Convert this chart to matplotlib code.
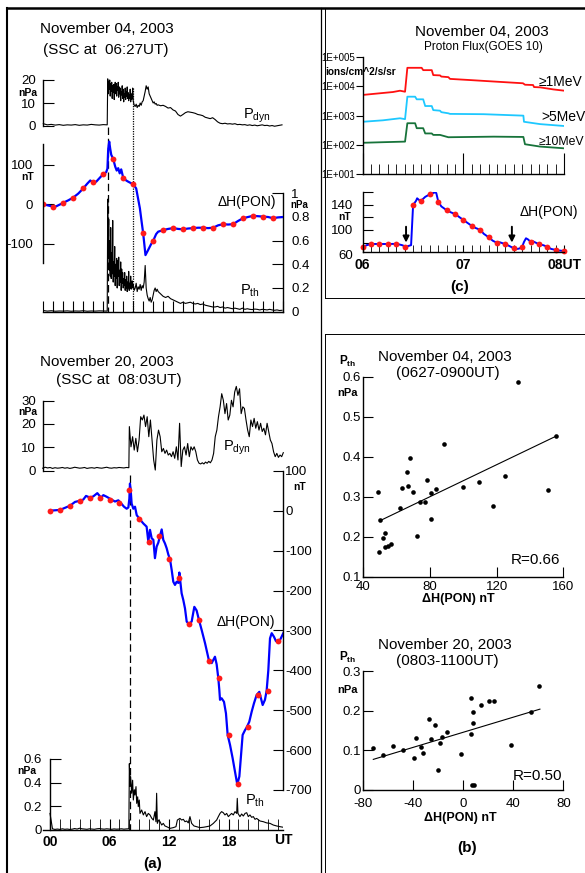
import numpy as np
import matplotlib
matplotlib.use("Agg")
import matplotlib.pyplot as plt
import matplotlib.transforms as mtransforms

plt.rcParams['font.family'] = ['Liberation Sans', 'DejaVu Sans']
plt.rcParams['mathtext.fontset'] = 'custom'
plt.rcParams['mathtext.rm'] = 'Liberation Sans'
plt.rcParams['mathtext.bf'] = 'Liberation Sans:bold'
plt.rcParams['mathtext.it'] = 'Liberation Sans:italic'
plt.rcParams['axes.unicode_minus'] = False
plt.rcParams['axes.linewidth'] = 1.0

# ---------------- data: November 04, 2003 (panel a, top) ----------------
ssc04 = 6.45
end04 = 9.0
pdyn04_pre = [1.0, 0.5, 0.7, 0.4, 0.6, 0.3, 0.5, 0.4, 0.6, 0.3, 0.5, 0.4, 0.7, 0.5, 0.4, 0.6, 0.5]
pdyn04_ssc = [20.5, 14.0, 19.5, 16.0, 20.0, 13.0, 18.5, 15.0, 19.0, 12.0,
              17.5, 14.5, 18.0, 11.5, 16.0, 19.0, 14.0, 18.5, 13.0, 17.0,
              15.5, 19.0, 12.5, 17.0, 14.0, 16.5, 11.0, 15.0, 13.5, 17.5,
              12.0, 16.0, 10.5, 14.0, 12.5, 16.5, 11.5, 15.0, 13.0, 17.0,
              12.0, 14.5, 11.0, 13.5, 12.0, 16.0, 10.5, 14.0, 11.5, 13.0,
              16.5, 11.0]
pdyn04_mid = [9.0, 8.5, 9.5, 8.0, 9.0, 8.5, 10.0, 9.0, 10.5, 11.0, 13.0, 15.0,
              17.5, 16.0, 17.0, 14.0, 13.0, 12.0, 11.0, 10.0, 10.5, 9.5, 9.8, 9.0]
pdyn04_late = [9.2, 8.8, 9.0, 8.5, 7.8, 8.0, 7.0, 6.5, 5.0, 4.3, 5.0, 5.8, 6.2, 6.0,
               5.8, 5.5, 5.0, 4.8, 4.5, 3.8, 3.5, 3.2, 3.6, 2.8, 1.8, 1.2, 1.0, 1.2,
               0.9, 1.0, 0.8, 1.0, 0.6, 0.7, 0.5, 0.6, 0.3, 0.5, 0.2, 0.4, 0.1, 0.3,
               0.5, 0.2, 0.3, 0.0, 0.2, -0.1, 0.1, 0.3, 0.5]

pth04_pre = [0.01, 0.005, 0.008, 0.004, 0.006, 0.005, 0.007, 0.004, 0.006, 0.005,
             0.008, 0.004, 0.006, 0.005, 0.007, 0.006, 0.005]
pth04_ssc = [0.95, 0.45, 0.78, 0.35, 0.6, 0.3, 0.71, 0.28, 0.5, 0.32, 0.77, 0.25,
             0.42, 0.3, 0.55, 0.22, 0.4, 0.28, 0.45, 0.2, 0.43, 0.3, 0.46, 0.22,
             0.35, 0.25, 0.42, 0.18, 0.36, 0.24, 0.33, 0.2, 0.28, 0.22, 0.33, 0.18,
             0.27, 0.2, 0.3, 0.17, 0.25, 0.2, 0.34, 0.18, 0.24, 0.2, 0.3, 0.19,
             0.22, 0.26, 0.2, 0.23]
pth04_mid = [0.18, 0.2, 0.24, 0.17, 0.21, 0.19, 0.23, 0.18, 0.22, 0.2, 0.25, 0.39,
             0.2, 0.14, 0.11, 0.09, 0.12, 0.08, 0.1, 0.14, 0.18, 0.2, 0.17, 0.19]
pth04_late = [0.17, 0.15, 0.13, 0.12, 0.13, 0.11, 0.1, 0.09, 0.08, 0.07, 0.08, 0.07,
              0.075, 0.08, 0.07, 0.065, 0.07, 0.06, 0.065, 0.055, 0.05, 0.045, 0.04,
              0.04, 0.045, 0.035, 0.04, 0.03, 0.035, 0.03, 0.025, 0.03, 0.025, 0.02,
              0.03, 0.02, 0.025, 0.02, 0.018, 0.022, 0.02, 0.015, 0.02, 0.018, 0.015,
              0.02, 0.015, 0.012, 0.015, 0.01, 0.012]

dh04_t = [0, 0.5, 1.0, 1.3, 1.7, 2.0, 2.5, 3.0, 3.5, 4.0, 4.4, 4.7, 5.0, 5.3, 5.7,
          6.0, 6.3, 6.42, 6.5, 6.6, 6.7, 6.8, 7.0, 7.2, 7.35, 7.5, 7.65, 7.8, 8.0,
          8.3, 8.5, 8.8, 9.0, 9.3, 9.67, 9.85, 10.0, 10.23, 10.5, 10.8, 11.0, 11.3,
          11.5, 12.0, 12.5, 13.0, 13.5, 14.0, 14.5, 15.0, 15.5, 16.0, 16.5, 17.0,
          17.5, 18.0, 18.5, 19.0, 19.5, 20.0, 20.5, 21.0, 21.5, 22.0, 22.5, 23.0,
          23.5, 24.0]
dh04_v = [0, -3, -6, -5, 0, 4, 10, 17, 27, 40, 52, 60, 55, 57, 68, 76, 81, 90, 140,
          158, 140, 125, 114, 95, 85, 91, 78, 88, 67, 60, 57, 53, 51, 40, -10, -45,
          -73, -128, -115, -100, -92, -75, -69, -65, -62, -60, -62, -63, -61, -60,
          -59, -59, -60, -59, -53, -50, -51, -50, -42, -35, -32, -29, -30, -31, -32,
          -35, -33, -32]
dots04 = [0, -6, 4, 17, 40, 55, 76, 114, 67, 51, -73, -92, -65, -60, -63, -60, -59,
          -59, -50, -50, -35, -29, -31, -35]

# ---------------- data: November 20, 2003 (panel a, bottom) ----------------
ssc20 = 8.05
pdyn20_pre = [1.2, 1.6, 1.3, 1.5, 1.1, 1.4, 1.2, 1.3, 1.5, 1.2, 1.4, 1.1, 1.3, 1.6,
              1.4, 1.2, 1.3, 1.5, 1.1, 1.3, 1.4, 1.2, 1.5, 1.3, 1.2, 1.4, 1.6, 1.3,
              1.2, 1.4, 1.3, 1.5, 1.4, 1.3, 1.5, 1.4]
pdyn20_post = [18.9, 10.3, 14.6, 8.9, 13.9, 8.2, 13.2, 23.1, 21.7, 23.8, 18.9, 23.1,
               14.6, 21.7, 13.2, 4.7, 0.4, 13.2, 17.4, 14.6, 8.2, 9.6, 7.5, 8.9, 6.8,
               7.5, 6.1, 8.2, 5.4, 10.3, 4.7, 20.3, 1.9, 8.9, 10.3, 6.8, 11.7, 6.1,
               10.3, 8.9, 10.3, 8.2, 4.7, 3.3, 3.0, 3.5, 3.0, 3.8, 3.3, 4.1, 3.5, 4.7,
               7.5, 14.6, 17.4, 23.1, 27.3, 32.9, 30.1, 24.4, 28.7, 21.7, 23.8, 30.1,
               27.3, 33.6, 36.0, 32.2, 35.0, 24.4, 27.3, 26.6, 21.7, 17.4, 14.6, 21.7,
               18.9, 22.4, 18.2, 21.0, 17.4, 20.3, 16.8, 18.2, 15.4, 20.3, 16.8, 13.2,
               11.7, 8.2, 6.1, 7.5, 5.8, 6.8, 6.1, 7.8]

dh20_t = [0, 1.01, 1.68, 2.02, 2.52, 3.02, 3.36, 3.63, 4.03, 4.37, 4.77, 5.14, 5.38,
          5.71, 6.15, 6.55, 6.89, 7.12, 7.46, 7.73, 7.9, 8.0, 8.06, 8.13, 8.23, 8.4,
          8.57, 8.74, 9.07, 9.41, 9.74, 9.91, 10.08, 10.25, 10.42, 10.58, 10.75,
          10.92, 11.09, 11.26, 11.42, 11.59, 11.76, 11.93, 12.1, 12.27, 12.43, 12.6,
          12.77, 12.94, 13.04, 13.1, 13.27, 13.44, 13.61, 13.78, 14.01, 14.28, 14.55,
          14.78, 15.02, 15.29, 15.63, 16.03, 16.3, 16.63, 16.8, 16.97, 17.07, 17.14,
          17.3, 17.54, 17.74, 17.91, 18.15, 18.41, 18.65, 18.88, 19.09, 19.22, 19.42,
          19.66, 19.83, 20.09, 20.33, 20.56, 20.83, 21.1, 21.44, 21.67, 21.84, 22.01,
          22.18, 22.35, 22.58, 22.78, 23.19, 23.52]
dh20_v = [0, 2, 9, 12.5, 22, 25, 28, 37, 33, 36, 44, 33, 39, 35, 28.5, 23, 26, 20, 10,
          5, 8, 30, 68, 53, 18, 5, 10, -11, -22, -32, -40, -77, -48, -69, -73, -119,
          -90, -80, -63, -47, -73, -82, -94, -110, -122, -149, -178, -186, -178, -181,
          -155, -169, -207, -224, -245, -278, -284, -278, -241, -250, -274, -299, -332,
          -376, -382, -366, -385, -420, -449, -474, -470, -479, -508, -562, -587, -620,
          -654, -686, -666, -625, -562, -550, -543, -529, -504, -483, -462, -454, -487,
          -474, -451, -400, -320, -307, -316, -327, -324, -307]
dots20 = [0, 2, 12, 25, 33, 33, 28, 20, 53, -22, -78, -63, -122, -169, -284, -274,
          -376, -420, -562, -686, -543, -462, -451, -327]

pth20_pre = [0.14, 0.01, 0.005, 0.008, 0.005, 0.01, 0.006, 0.008, 0.005, 0.007, 0.012,
             0.008, 0.015, 0.01, 0.008, 0.006, 0.01, 0.008, 0.006, 0.01, 0.012, 0.009,
             0.007, 0.01, 0.008, 0.006, 0.009, 0.007, 0.008, 0.01, 0.007, 0.009, 0.01]
pth20_t = [8.0, 8.06, 8.13, 8.23, 8.33, 8.4, 8.5, 8.57, 8.67, 8.74, 8.84, 8.9, 9.0,
           9.07, 9.24, 9.41, 9.58, 9.74, 9.91, 10.08, 10.25, 10.42, 10.58, 10.68,
           10.75, 10.82, 10.95, 11.09, 11.26, 11.42, 11.59, 11.76, 12.1, 12.43, 12.7,
           12.84, 13.1, 13.27, 13.44, 13.61, 13.78, 13.94, 14.11, 14.28, 14.52, 14.78,
           15.12, 15.46, 15.79, 16.13, 16.47, 16.63, 16.8, 16.97, 17.14, 17.3, 17.47,
           17.64, 17.81, 17.98, 18.15, 18.31, 18.48, 18.65, 18.82, 18.88, 18.95, 19.15,
           19.32, 19.49, 19.66, 19.83, 19.99, 20.16, 20.33, 20.5, 20.67, 20.83, 21.17,
           21.51, 21.84, 22.18, 22.51, 22.85, 23.19, 23.52]
pth20_v = [0.56, 0.37, 0.45, 0.31, 0.42, 0.253, 0.34, 0.295, 0.366, 0.225, 0.28, 0.197,
           0.253, 0.14, 0.169, 0.127, 0.155, 0.113, 0.14, 0.127, 0.1, 0.084, 0.155,
           0.07, 0.31, 0.056, 0.084, 0.07, 0.042, 0.056, 0.034, 0.028, 0.014, 0.02,
           0.028, 0.084, 0.098, 0.084, 0.09, 0.07, 0.076, 0.06, 0.113, 0.056, 0.034,
           0.028, 0.02, 0.023, 0.028, 0.034, 0.056, 0.07, 0.084, 0.113, 0.14, 0.155,
           0.146, 0.127, 0.14, 0.113, 0.127, 0.14, 0.127, 0.155, 0.14, 0.267, 0.14,
           0.113, 0.135, 0.118, 0.14, 0.146, 0.113, 0.127, 0.107, 0.113, 0.09, 0.098,
           0.076, 0.07, 0.06, 0.056, 0.042, 0.034, 0.028, 0.023]

# ---------------- data: panel c (GOES 10 proton flux, 06-08 UT) ----------------
red_t = [6.0, 6.15, 6.3, 6.37, 6.42, 6.443, 6.585, 6.6, 6.685, 6.7, 6.767, 6.78,
         6.85, 6.866, 7.065, 7.3, 7.59, 7.61, 7.69, 7.70, 7.76, 7.89, 8.0]
red_log = [3.71, 3.76, 3.81, 3.855, 3.82, 4.64, 4.64, 4.56, 4.56, 4.39, 4.38, 4.34,
           4.32, 4.26, 4.22, 4.17, 4.11, 4.06, 4.05, 3.98, 3.97, 3.90, 3.855]
cyan_t = [6.0, 6.2, 6.37, 6.42, 6.443, 6.52, 6.536, 6.6, 6.62, 6.685, 6.7, 6.767,
          6.78, 6.85, 6.866, 7.2, 7.594, 7.6, 7.76, 8.0]
cyan_log = [2.79, 2.84, 2.91, 2.88, 3.65, 3.65, 3.56, 3.56, 3.33, 3.33, 3.19, 3.17,
            3.12, 3.08, 3.06, 3.05, 3.0, 2.79, 2.71, 2.645]
green_t = [6.0, 6.2, 6.42, 6.443, 6.52, 6.536, 6.6, 6.62, 6.685, 6.7, 6.767, 6.85,
           7.3, 7.594, 7.61, 7.76, 8.0]
green_log = [2.07, 2.09, 2.11, 2.74, 2.74, 2.57, 2.57, 2.39, 2.39, 2.34, 2.34, 2.26,
             2.28, 2.27, 2.02, 1.94, 1.88]
flux_labels = ['\u22651MeV', '>5MeV', '\u226510MeV']

dhc_t = [6.0, 6.04, 6.09, 6.17, 6.25, 6.34, 6.39, 6.43, 6.46, 6.48, 6.5, 6.53, 6.54,
         6.56, 6.58, 6.62, 6.67, 6.72, 6.73, 6.75, 6.78, 6.83, 6.87, 6.92, 6.96, 7.0,
         7.04, 7.08, 7.12, 7.17, 7.2, 7.25, 7.29, 7.33, 7.36, 7.42, 7.45, 7.5, 7.53,
         7.55, 7.58, 7.6, 7.62, 7.64, 7.67, 7.69, 7.75, 7.79, 7.83, 7.87, 7.92, 7.95,
         8.0]
dhc_v = [72.6, 76, 77.8, 77.8, 77.8, 78, 76, 73.5, 75, 76, 139.2, 146, 149.8, 147,
         146, 152, 156.5, 159.2, 158, 144.4, 137, 131.3, 128, 124.6, 120, 115.6, 111,
         106.6, 103, 99.8, 94, 88.3, 83, 79.8, 80.5, 77.3, 75, 71, 70, 70.5, 72.6, 81,
         86.8, 85, 80.5, 82, 77.3, 76, 73.5, 70, 68.3, 67.5, 66.8]
dotsc = [72.6, 77.8, 77.8, 77.8, 77.8, 73.5, 139.2, 146, 156.5, 144.4, 131.3, 124.6,
         115.6, 106.6, 99.8, 88.3, 79.8, 77.3, 71, 72.6, 80.5, 77.3, 73.5, 68.3, 66.8]
arrow_t = [6.43, 7.48]

# ---------------- data: panel b (scatter) ----------------
sc1_x = [49.6, 49, 50, 52, 53, 53, 54.6, 56.6, 62, 63.4, 66, 66.6, 68, 69.8, 72.2, 74,
         77.2, 78.4, 80.4, 80.6, 83.6, 88.6, 99.8, 109.2, 117.6, 125.2, 133, 150.6, 155.4]
sc1_y = [0.163, 0.311, 0.242, 0.197, 0.21, 0.175, 0.178, 0.183, 0.273, 0.323, 0.361,
         0.327, 0.397, 0.313, 0.201, 0.286, 0.286, 0.342, 0.309, 0.244, 0.32, 0.433,
         0.325, 0.338, 0.278, 0.352, 0.586, 0.318, 0.453]
fit1 = (0.002, 0.14)
fit1_range = (50, 155.4)

sc2_x = [-72, -64, -56.5, -48, -39.5, -37.6, -34.1, -32.3, -27.2, -26.1, -22.4, -20,
         -18.7, -17.1, -12.8, -1.6, 5.9, 6.1, 6.7, 8.5, 7.7, 8, 14.4, 20.5, 24.8, 38.4,
         54.1, 60.8]
sc2_y = [0.107, 0.087, 0.111, 0.1, 0.081, 0.13, 0.109, 0.094, 0.18, 0.129, 0.165, 0.05,
         0.118, 0.134, 0.146, 0.092, 0.233, 0.14, 0.013, 0.013, 0.196, 0.169, 0.214,
         0.225, 0.225, 0.114, 0.197, 0.263]
fit2 = (0.00095, 0.1456)
fit2_range = (-72, 61.3)

# ---------------- figure helpers ----------------
W, H = 585, 873
fig = plt.figure(figsize=(W / 100, H / 100), dpi=100)
BLUE = '#0000ff'
RED = '#ff1a1a'


def box(x0, y0, x1, y1):
    ax = fig.add_axes([x0 / W, 1 - y1 / H, (x1 - x0) / W, (y1 - y0) / H])
    ax.patch.set_alpha(0)
    for s in ax.spines.values():
        s.set_visible(False)
    ax.set_xticks([])
    ax.set_yticks([])
    return ax


def lim(v_ref, y_ref, ppu, y0, y1):
    return (v_ref - (y1 - y_ref) / ppu, v_ref + (y_ref - y0) / ppu)


def ftext(x, y, s, **kw):
    kw.setdefault('ha', 'center')
    kw.setdefault('va', 'center')
    kw.setdefault('fontsize', 10)
    fig.text(x / W, 1 - y / H, s, **kw)


def fline(xs, ys, lw=1.0):
    fig.add_artist(plt.Line2D([x / W for x in xs], [1 - y / H for y in ys],
                              transform=fig.transFigure, color='k', lw=lw))


def vline_px(ax, t, y0, y1, ls):
    tr = mtransforms.blended_transform_factory(ax.transData, fig.transFigure)
    ax.plot([t, t], [1 - y0 / H, 1 - y1 / H], transform=tr, color='k', lw=0.9,
            ls=ls, clip_on=False)


def segs(bounds, *vals):
    ts = [np.linspace(a, b, len(v)) for (a, b), v in zip(bounds, vals)]
    return np.concatenate(ts), np.concatenate([np.asarray(v, float) for v in vals])


# frames
fline([7, 585], [8.3, 8.3], lw=1.8)
fline([7, 7], [8, 873], lw=1.5)
fline([321, 321], [8, 873], lw=0.9)
fline([325, 325], [8, 298], lw=0.7)
fline([325, 585], [298, 298], lw=0.7)
fline([325, 325], [334, 873], lw=0.7)
fline([325, 585], [334, 334], lw=0.7)

TL = 9.5  # tick label size

# ================= panel a, Nov 04 =================
xl04 = (-0.06, 24.0)
bnd04 = [(0, 6.4), (ssc04, 9.0), (9.1, 11.4), (11.5, 23.9)]

pt1 = box(42.7, 140, 283, 311.7)
pt1.set_xlim(xl04)
pt1.set_ylim(lim(0, 311.7, 118.5, 140, 311.7))
tt, vv = segs(bnd04, pth04_pre, pth04_ssc, pth04_mid, pth04_late)
pt1.plot(tt, vv, color='k', lw=0.8)
pt1.spines['right'].set_visible(True)
pt1.spines['right'].set_bounds(0, 1)
pt1.spines['bottom'].set_visible(True)
pt1.yaxis.tick_right()
pt1.set_yticks([0, 0.2, 0.4, 0.6, 0.8, 1.0], ['0', '0.2', '0.4', '0.6', '0.8', '1'])
pt1.tick_params(axis='y', direction='in', length=8, pad=6, labelsize=TL)
pt1.set_xticks(np.arange(0, 25))
pt1.tick_params(axis='x', direction='in', length=8, labelbottom=False)

pd1 = box(42.7, 70, 283, 130)
pd1.set_xlim(xl04)
pd1.set_ylim(lim(0, 126, 2.3, 70, 130))
tt, vv = segs(bnd04, pdyn04_pre, pdyn04_ssc, pdyn04_mid, pdyn04_late)
pd1.plot(tt, vv, color='k', lw=0.8, clip_on=False)
pd1.spines['left'].set_visible(True)
pd1.spines['left'].set_bounds(0, 20)
pd1.set_yticks([0, 10, 20])
pd1.tick_params(axis='y', direction='in', length=8, pad=5, labelsize=TL)

dh1 = box(42.7, 140, 283, 320)
dh1.set_xlim(xl04)
dh1.set_ylim(lim(0, 204.3, 0.397, 140, 320))
dh1.plot(dh04_t, dh04_v, color=BLUE, lw=1.6)
dh1.plot(np.arange(len(dots04)), dots04, 'o', color=RED, ms=4.2, mew=0)
dh1.spines['left'].set_visible(True)
dh1.spines['left'].set_bounds(-148, 152)
dh1.set_yticks([-100, 0, 100])
dh1.tick_params(axis='y', direction='in', length=8, pad=7, labelsize=TL)

vline_px(pt1, ssc04, 127, 311.7, (0, (6, 3)))
vline_px(pt1, end04, 88, 311.7, (0, (1, 1)))

ftext(107, 29, 'November 04, 2003', fontsize=11)
ftext(106, 50, '(SSC at  06:27UT)', fontsize=11)
ftext(28, 93, 'nPa', fontsize=7.5, fontweight='bold')
ftext(28, 177, 'nT', fontsize=7.5, fontweight='bold')
ftext(299, 205, 'nPa', fontsize=7, fontweight='bold')
ftext(243, 116, r'P$_{\mathrm{dyn}}$', fontsize=10.5, ha='left')
ftext(247, 201.7, '\u0394H(PON)', fontsize=10)
ftext(240, 291, r'P$_{\mathrm{th}}$', fontsize=10.5, ha='left')

# ================= panel a, Nov 20 =================
xl20 = (-0.736, 23.49)

pd2 = box(42.7, 380, 283, 475)
pd2.set_xlim(xl20)
pd2.set_ylim(lim(0, 471, 2.35, 380, 475))
tt, vv = segs([(-0.736, 7.95), (8.0, 23.52)], pdyn20_pre, pdyn20_post)
pd2.plot(tt, vv, color='k', lw=0.8, clip_on=False)
pd2.spines['left'].set_visible(True)
pd2.spines['left'].set_bounds(0, 30)
pd2.set_yticks([0, 10, 20, 30])
pd2.tick_params(axis='y', direction='in', length=8, pad=5, labelsize=TL)

pt2 = box(42.7, 740, 283, 830)
pt2.set_xlim(xl20)
pt2.set_ylim(lim(0, 830, 118.5, 740, 830))
tp = np.concatenate([np.linspace(0, 7.95, len(pth20_pre)), pth20_t])
vp = np.concatenate([pth20_pre, pth20_v])
pt2.plot(tp, vp, color='k', lw=0.8)
pt2.spines['left'].set_visible(True)
pt2.spines['left'].set_position(('data', 0))
pt2.spines['left'].set_bounds(0, 0.6)
pt2.spines['bottom'].set_visible(True)
pt2.set_yticks([0, 0.2, 0.4, 0.6], ['0', '0.2', '0.4', '0.6'])
pt2.tick_params(axis='y', direction='in', length=8, pad=5.5, labelsize=TL)
pt2.set_xticks([0, 6, 12, 18], ['00', '06', '12', '18'])
pt2.set_xticks(np.arange(0, 24), minor=True)
pt2.tick_params(axis='x', which='both', direction='in', length=8, pad=3.5,
                labelsize=10)
for lab in pt2.get_xticklabels():
    lab.set_fontweight('bold')

dh2 = box(42.7, 465, 283, 800)
dh2.set_xlim(xl20)
dh2.set_ylim(lim(0, 510.7, 0.399, 465, 800))
dh2.plot(dh20_t, dh20_v, color=BLUE, lw=1.6)
dh2.plot(np.arange(len(dots20)), dots20, 'o', color=RED, ms=4.2, mew=0)
dh2.spines['right'].set_visible(True)
dh2.spines['right'].set_bounds(-700, 100)
dh2.yaxis.tick_right()
dh2.set_yticks(np.arange(-700, 101, 100))
dh2.tick_params(axis='y', direction='in', length=7, pad=1.5, labelsize=TL)

vline_px(pt2, ssc20, 475, 830, (0, (6, 3)))

ftext(107, 362, 'November 20, 2003', fontsize=11)
ftext(119, 380, '(SSC at  08:03UT)', fontsize=11)
ftext(28, 412, 'nPa', fontsize=7.5, fontweight='bold')
ftext(300, 487, 'nT', fontsize=7.5, fontweight='bold')
ftext(27, 771, 'nPa', fontsize=7.5, fontweight='bold')
ftext(223, 448, r'P$_{\mathrm{dyn}}$', fontsize=10.5, ha='left')
ftext(246, 622, '\u0394H(PON)', fontsize=10)
ftext(245, 801, r'P$_{\mathrm{th}}$', fontsize=10.5, ha='left')
ftext(283, 840, 'UT', fontsize=10, fontweight='bold')
ftext(153, 864, '(a)', fontsize=11, fontweight='bold')

# ================= panel c =================
fx = box(362.7, 55, 564.3, 174)
fx.set_xlim(6, 8)
fx.set_yscale('log')
fx.set_ylim(1e1, 10 ** (5 + 2.3 / 29.17))
for ts, lv, col in [(red_t, red_log, '#ff1010'), (cyan_t, cyan_log, '#1ec8ff'),
                    (green_t, green_log, '#17733a')]:
    fx.plot(ts, 10 ** np.asarray(lv), color=col, lw=1.3)
fx.spines['left'].set_visible(True)
fx.spines['left'].set_bounds(1e1, 1e5)
fx.spines['bottom'].set_visible(True)
fx.set_yticks([1e1, 1e2, 1e3, 1e4, 1e5],
              ['1E+001', '1E+002', '1E+003', '1E+004', '1E+005'])
fx.minorticks_off()
fx.tick_params(axis='y', direction='out', length=5, pad=0.5, labelsize=7)
fx.set_xticks([6, 7, 8])
fx.set_xticks(np.arange(6, 8.001, 1 / 12), minor=True)
fx.tick_params(axis='x', which='major', direction='in', length=15, labelbottom=False)
fx.tick_params(axis='x', which='minor', direction='in', length=7)
ftext(539, 82, flux_labels[0], fontsize=10, ha='left')
ftext(541, 117, flux_labels[1], fontsize=10, ha='left')
ftext(539, 142, flux_labels[2], fontsize=8.8, ha='left')
ftext(482, 32, 'November 04, 2003', fontsize=11)
ftext(483, 47, 'Proton Flux(GOES 10)', fontsize=8.5)
ftext(361, 72, 'ions/cm^2/s/sr', fontsize=7.3, fontweight='bold')

fd = box(362.7, 191.7, 564.3, 251.7)
fd.set_xlim(6, 8)
fd.set_ylim(lim(60, 255.3, 0.635, 191.7, 251.7))
fd.plot(dhc_t, dhc_v, color=BLUE, lw=1.4)
fd.plot(6 + np.arange(len(dotsc)) / 12, dotsc, 'o', color=RED, ms=4.2, mew=0,
        clip_on=False)
for t in arrow_t:
    fd.annotate('', xy=(t, 80), xytext=(t, 105),
                arrowprops=dict(arrowstyle='-|>', color='k', lw=1.4,
                                mutation_scale=9, shrinkA=0, shrinkB=0))
fd.spines['left'].set_visible(True)
fd.spines['bottom'].set_visible(True)
fd.set_yticks([80, 100, 120, 140, 160], ['', '100', '', '140', ''])
fd.tick_params(axis='y', direction='in', length=7, pad=7, labelsize=TL)
fd.set_xticks([6, 7, 8], ['06', '07', '08UT'])
fd.set_xticks(np.arange(6, 8.001, 1 / 12), minor=True)
fd.tick_params(axis='x', which='both', direction='in', length=5, pad=4.5,
               labelsize=10)
for lab in fd.get_xticklabels():
    lab.set_fontweight('bold')
ftext(346, 256, '60', fontsize=TL)
ftext(345, 217, 'nT', fontsize=7.5, fontweight='bold')
ftext(549, 212, '\u0394H(PON)', fontsize=10)
ftext(460, 287, '(c)', fontsize=11, fontweight='bold')

# ================= panel b =================
s1 = box(363.3, 376.7, 563.3, 576.7)
s1.set_xlim(40, 160)
s1.set_ylim(0.1, 0.6)
s1.scatter(sc1_x, sc1_y, s=11, color='k', clip_on=False, linewidths=0)
xf = np.array(fit1_range)
s1.plot(xf, fit1[0] * xf + fit1[1], color='k', lw=0.8)
s1.spines['left'].set_visible(True)
s1.spines['bottom'].set_visible(True)
s1.set_xticks([40, 80, 120, 160])
s1.set_yticks([0.1, 0.2, 0.3, 0.4, 0.5, 0.6])
s1.tick_params(axis='y', direction='in', length=7, pad=2, labelsize=TL)
s1.tick_params(axis='x', direction='in', length=7, pad=3, labelsize=TL)
ftext(445, 357, 'November 04, 2003', fontsize=11)
ftext(448, 373, '(0627-0900UT)', fontsize=11)
ftext(348, 361, r'$\mathbf{P_{th}}$', fontsize=8.5)
ftext(348, 393, 'nPa', fontsize=8, fontweight='bold')
ftext(535, 560, 'R=0.66', fontsize=11)
ftext(458, 599, '\u0394H(PON) nT', fontsize=9, fontweight='bold')

s2 = box(363.3, 671, 563.3, 790)
s2.set_xlim(-80, 80)
s2.set_ylim(0, 0.3)
s2.scatter(sc2_x, sc2_y, s=11, color='k', clip_on=False, linewidths=0)
xf = np.array(fit2_range)
s2.plot(xf, fit2[0] * xf + fit2[1], color='k', lw=0.8)
s2.spines['left'].set_visible(True)
s2.spines['bottom'].set_visible(True)
s2.set_xticks([-80, -40, 0, 40, 80])
s2.set_yticks([0, 0.1, 0.2, 0.3], ['0', '0.1', '0.2', '0.3'])
s2.tick_params(axis='y', direction='in', length=7, pad=1.5, labelsize=TL)
s2.tick_params(axis='x', direction='in', length=7, pad=5.5, labelsize=TL)
ftext(445, 645, 'November 20, 2003', fontsize=11)
ftext(447, 661, '(0803-1100UT)', fontsize=11)
ftext(348, 657, r'$\mathbf{P_{th}}$', fontsize=8.5)
ftext(348, 690, 'nPa', fontsize=8, fontweight='bold')
ftext(537, 776, 'R=0.50', fontsize=11)
ftext(460, 818, '\u0394H(PON) nT', fontsize=9, fontweight='bold')
ftext(467, 848, '(b)', fontsize=11, fontweight='bold')

fig.savefig('out.png', dpi=100)
